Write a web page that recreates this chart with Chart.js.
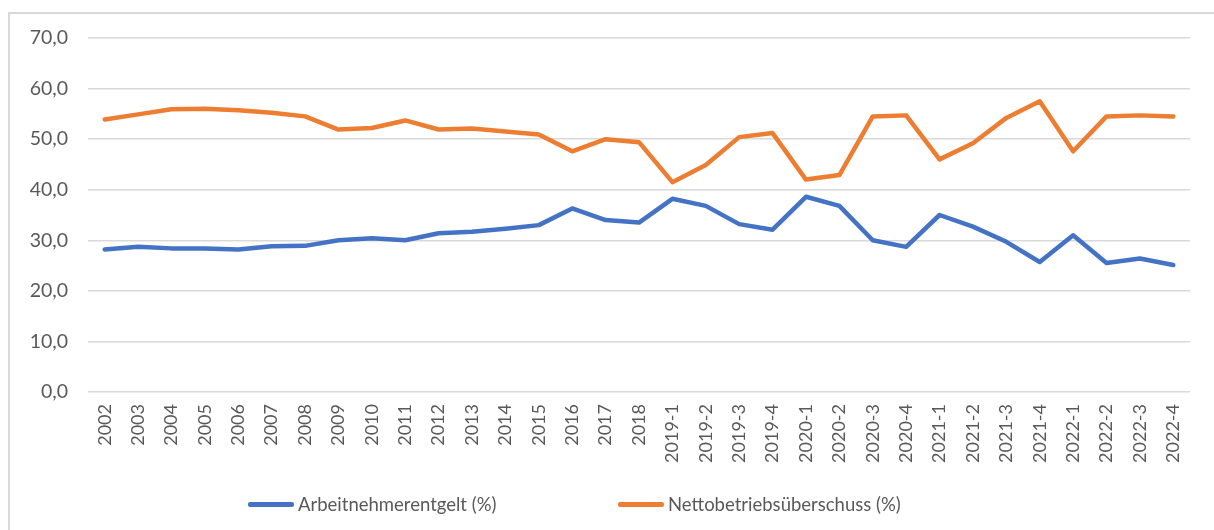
<!DOCTYPE html>
<html>
<head>
<meta charset="utf-8">
<script src="https://cdn.jsdelivr.net/npm/chart.js@4.4.0/dist/chart.umd.min.js"></script>
<style>
  html, body { margin: 0; padding: 0; background: #fff; }
  #wrap { position: relative; width: 1214px; height: 530px; overflow: hidden; }
  #frame { position: absolute; left: 8px; top: 12px; width: 1300px; height: 600px;
           border-left: 2px solid #d9d9d9; border-top: 2px solid #d9d9d9; }
  #chart { position: absolute; left: 0; top: 0; }
  .lg { position: absolute; top: 492px; height: 24px; display: flex; align-items: center;
        font-family: Lato, sans-serif; font-size: 18.5px; color: #595959; white-space: nowrap; }
  .lg i { display: inline-block; width: 46px; height: 5px; border-radius: 2px; margin-right: 4px; }
</style>
</head>
<body>
<div id="wrap">
  <div id="frame"></div>
  <canvas id="chart" width="1214" height="530"></canvas>
  <div id="legend"></div>
</div>
<script>
// categories: yearly values, then quarters
const labels = [
  '2002', '2003', '2004', '2005', '2006', '2007', '2008', '2009', '2010', '2011',
  '2012', '2013', '2014', '2015', '2016', '2017', '2018',
  '2019-1', '2019-2', '2019-3', '2019-4', '2020-1', '2020-2', '2020-3', '2020-4',
  '2021-1', '2021-2', '2021-3', '2021-4', '2022-1', '2022-2', '2022-3', '2022-4'
];

const arbeitnehmerentgelt = [
  28.2, 28.7, 28.4, 28.4, 28.2, 28.8, 28.9, 30.0, 30.4, 30.0,
  31.4, 31.7, 32.3, 33.0, 36.3, 34.0, 33.5,
  38.2, 36.8, 33.2, 32.1, 38.6, 36.8, 30.0, 28.7,
  35.0, 32.7, 29.7, 25.7, 31.0, 25.5, 26.4, 25.1
];

const nettobetriebsueberschuss = [
  53.9, 54.9, 55.9, 56.0, 55.7, 55.2, 54.5, 51.9, 52.2, 53.7,
  51.9, 52.1, 51.5, 50.9, 47.6, 50.0, 49.4,
  41.5, 44.9, 50.4, 51.2, 42.0, 42.9, 54.5, 54.7,
  46.0, 49.2, 54.2, 57.5, 47.6, 54.5, 54.7, 54.5
];

const yMin = 0, yMax = 70, yStep = 10;

const seriesNames = ['Arbeitnehmerentgelt (%)', 'Nettobetriebsüberschuss (%)'];
const seriesColors = ['#4472C4', '#ED7D31'];

const font = { family: 'Lato, sans-serif', size: 18 };
const grey = '#595959';

const chart = new Chart(document.getElementById('chart'), {
  type: 'line',
  data: {
    labels: labels,
    datasets: [
      { label: seriesNames[0], data: arbeitnehmerentgelt, borderColor: seriesColors[0], backgroundColor: seriesColors[0] },
      { label: seriesNames[1], data: nettobetriebsueberschuss, borderColor: seriesColors[1], backgroundColor: seriesColors[1] }
    ].map(d => ({ ...d, borderWidth: 4.5, pointRadius: 0, tension: 0, borderJoinStyle: 'round', borderCapStyle: 'round' }))
  },
  options: {
    responsive: false,
    animation: false,
    layout: { padding: { top: 38, right: 24, bottom: 38, left: 0 } },
    plugins: { legend: { display: false }, tooltip: { enabled: false } },
    scales: {
      x: {
        offset: true,
        grid: { display: false, drawTicks: false },
        border: { display: false },
        ticks: { font: font, color: grey, maxRotation: 90, minRotation: 90, padding: 12, autoSkip: false },
        afterFit: s => { s.height = 100; }
      },
      y: {
        min: yMin, max: yMax,
        grid: { color: '#d9d9d9', lineWidth: 1.5, drawTicks: false },
        border: { display: false },
        ticks: {
          stepSize: yStep, font: { ...font, size: 19.5 }, color: grey, padding: 20,
          callback: v => v.toFixed(1).replace('.', ',')
        },
        afterFit: s => { s.width = 88; }
      }
    }
  }
});

// legend below the plot, built from the datasets
const lgX = [248, 618];
document.getElementById('legend').innerHTML = chart.data.datasets.map((d, i) =>
  `<div class="lg" style="left:${lgX[i]}px"><i style="background:${d.borderColor}"></i>${d.label}</div>`
).join('');
</script>
</body>
</html>
